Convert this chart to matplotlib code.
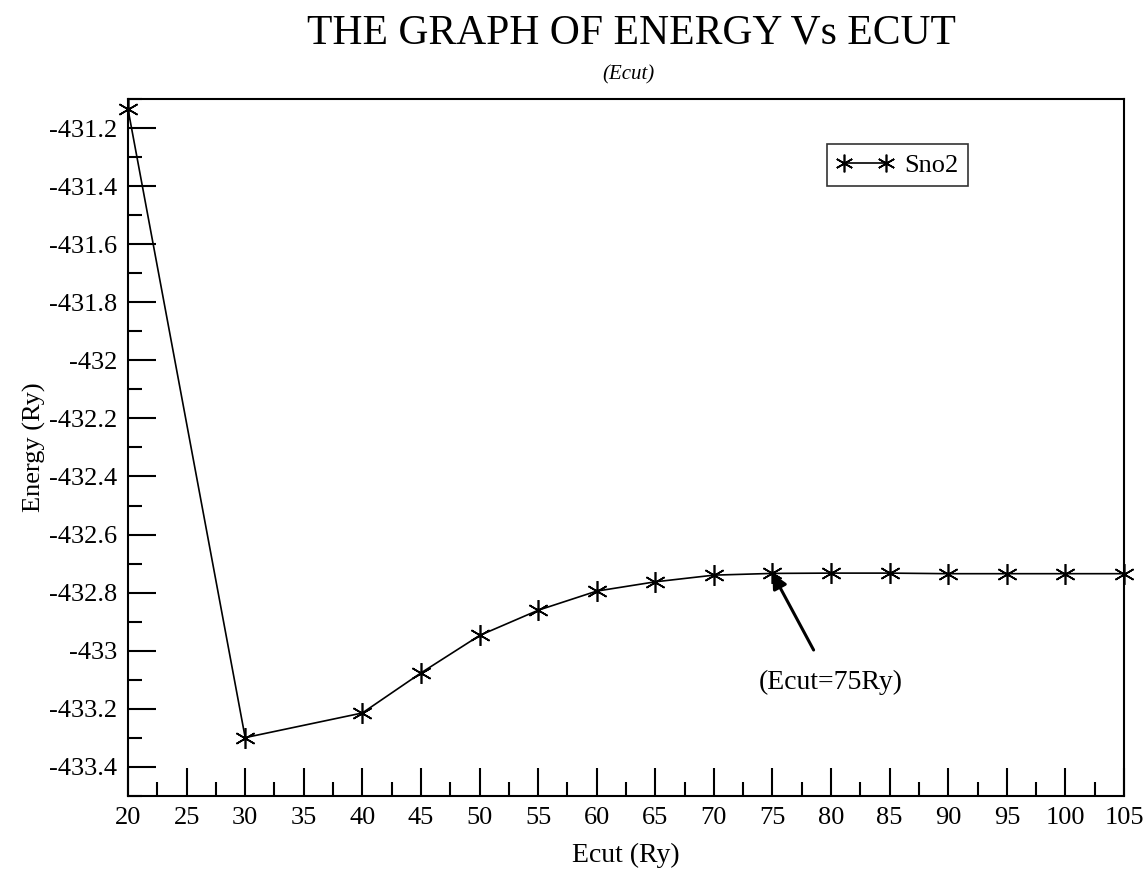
import matplotlib
matplotlib.use("Agg")
import matplotlib.pyplot as plt
from matplotlib.ticker import MultipleLocator, FuncFormatter

# Energy convergence data
ecut = [20, 30, 40, 45, 50, 55, 60, 65, 70, 75, 80, 85, 90, 95, 100, 105]
energy = [-431.134, -433.300, -433.215, -433.077, -432.948, -432.861, -432.795,
          -432.763, -432.740, -432.734, -432.733, -432.733, -432.735, -432.735,
          -432.735, -432.735]
series_name = "Sno2"

plt.rcParams.update({
    "font.family": ["Liberation Serif", "DejaVu Serif"],
})

fig = plt.figure(figsize=(11.46, 8.92), dpi=100)
ax = fig.add_axes([0.1117, 0.108, 0.8691, 0.7807])

# six-armed asterisk with a vertical arm, like the xmgrace star
star = (6, 2, 0)
ax.plot(ecut, energy, color="black", linewidth=1.2, marker=star,
        markersize=15, markeredgewidth=1.2, label=series_name, clip_on=False)

ax.set_xlim(20, 105)
ax.set_ylim(-433.5, -431.1)
ax.xaxis.set_major_locator(MultipleLocator(5))
ax.xaxis.set_minor_locator(MultipleLocator(2.5))
ax.yaxis.set_major_locator(MultipleLocator(0.2))
ax.yaxis.set_minor_locator(MultipleLocator(0.1))
ax.yaxis.set_major_formatter(FuncFormatter(lambda v, p: f"{round(v, 1):g}"))

ax.tick_params(which="both", direction="in", top=False, right=False,
               width=1.5, labelsize=19)
ax.tick_params(which="major", length=20, pad=8)
ax.tick_params(which="minor", length=10)
for s in ax.spines.values():
    s.set_linewidth(1.5)

ax.set_xlabel("Ecut (Ry)", fontsize=20, labelpad=10)
ax.set_ylabel("Energy (Ry)", fontsize=19, labelpad=2)

fig.text(0.551, 0.963, "THE GRAPH OF ENERGY Vs ECUT", ha="center", va="center",
         fontsize=30)
fig.text(0.548, 0.916, "(Ecut)", ha="center", va="center", fontsize=15,
         style="italic")

leg = ax.legend(loc="center", bbox_to_anchor=(0.783, 0.8145),
                bbox_transform=fig.transFigure, numpoints=2, fontsize=19,
                frameon=True, fancybox=False, handlelength=2.2,
                handletextpad=0.4, borderpad=0.35, markerscale=0.85)
leg.get_frame().set_edgecolor("black")
leg.get_frame().set_linewidth(1.2)

ax.annotate("(Ecut=75Ry)", xy=(75, energy[9]), xytext=(80.0, -433.11),
            ha="center", va="center", fontsize=20,
            arrowprops=dict(arrowstyle="-|>", color="black", lw=2.2,
                            mutation_scale=22, shrinkA=14, shrinkB=0))

fig.savefig("out.png", dpi=100, facecolor="white")
